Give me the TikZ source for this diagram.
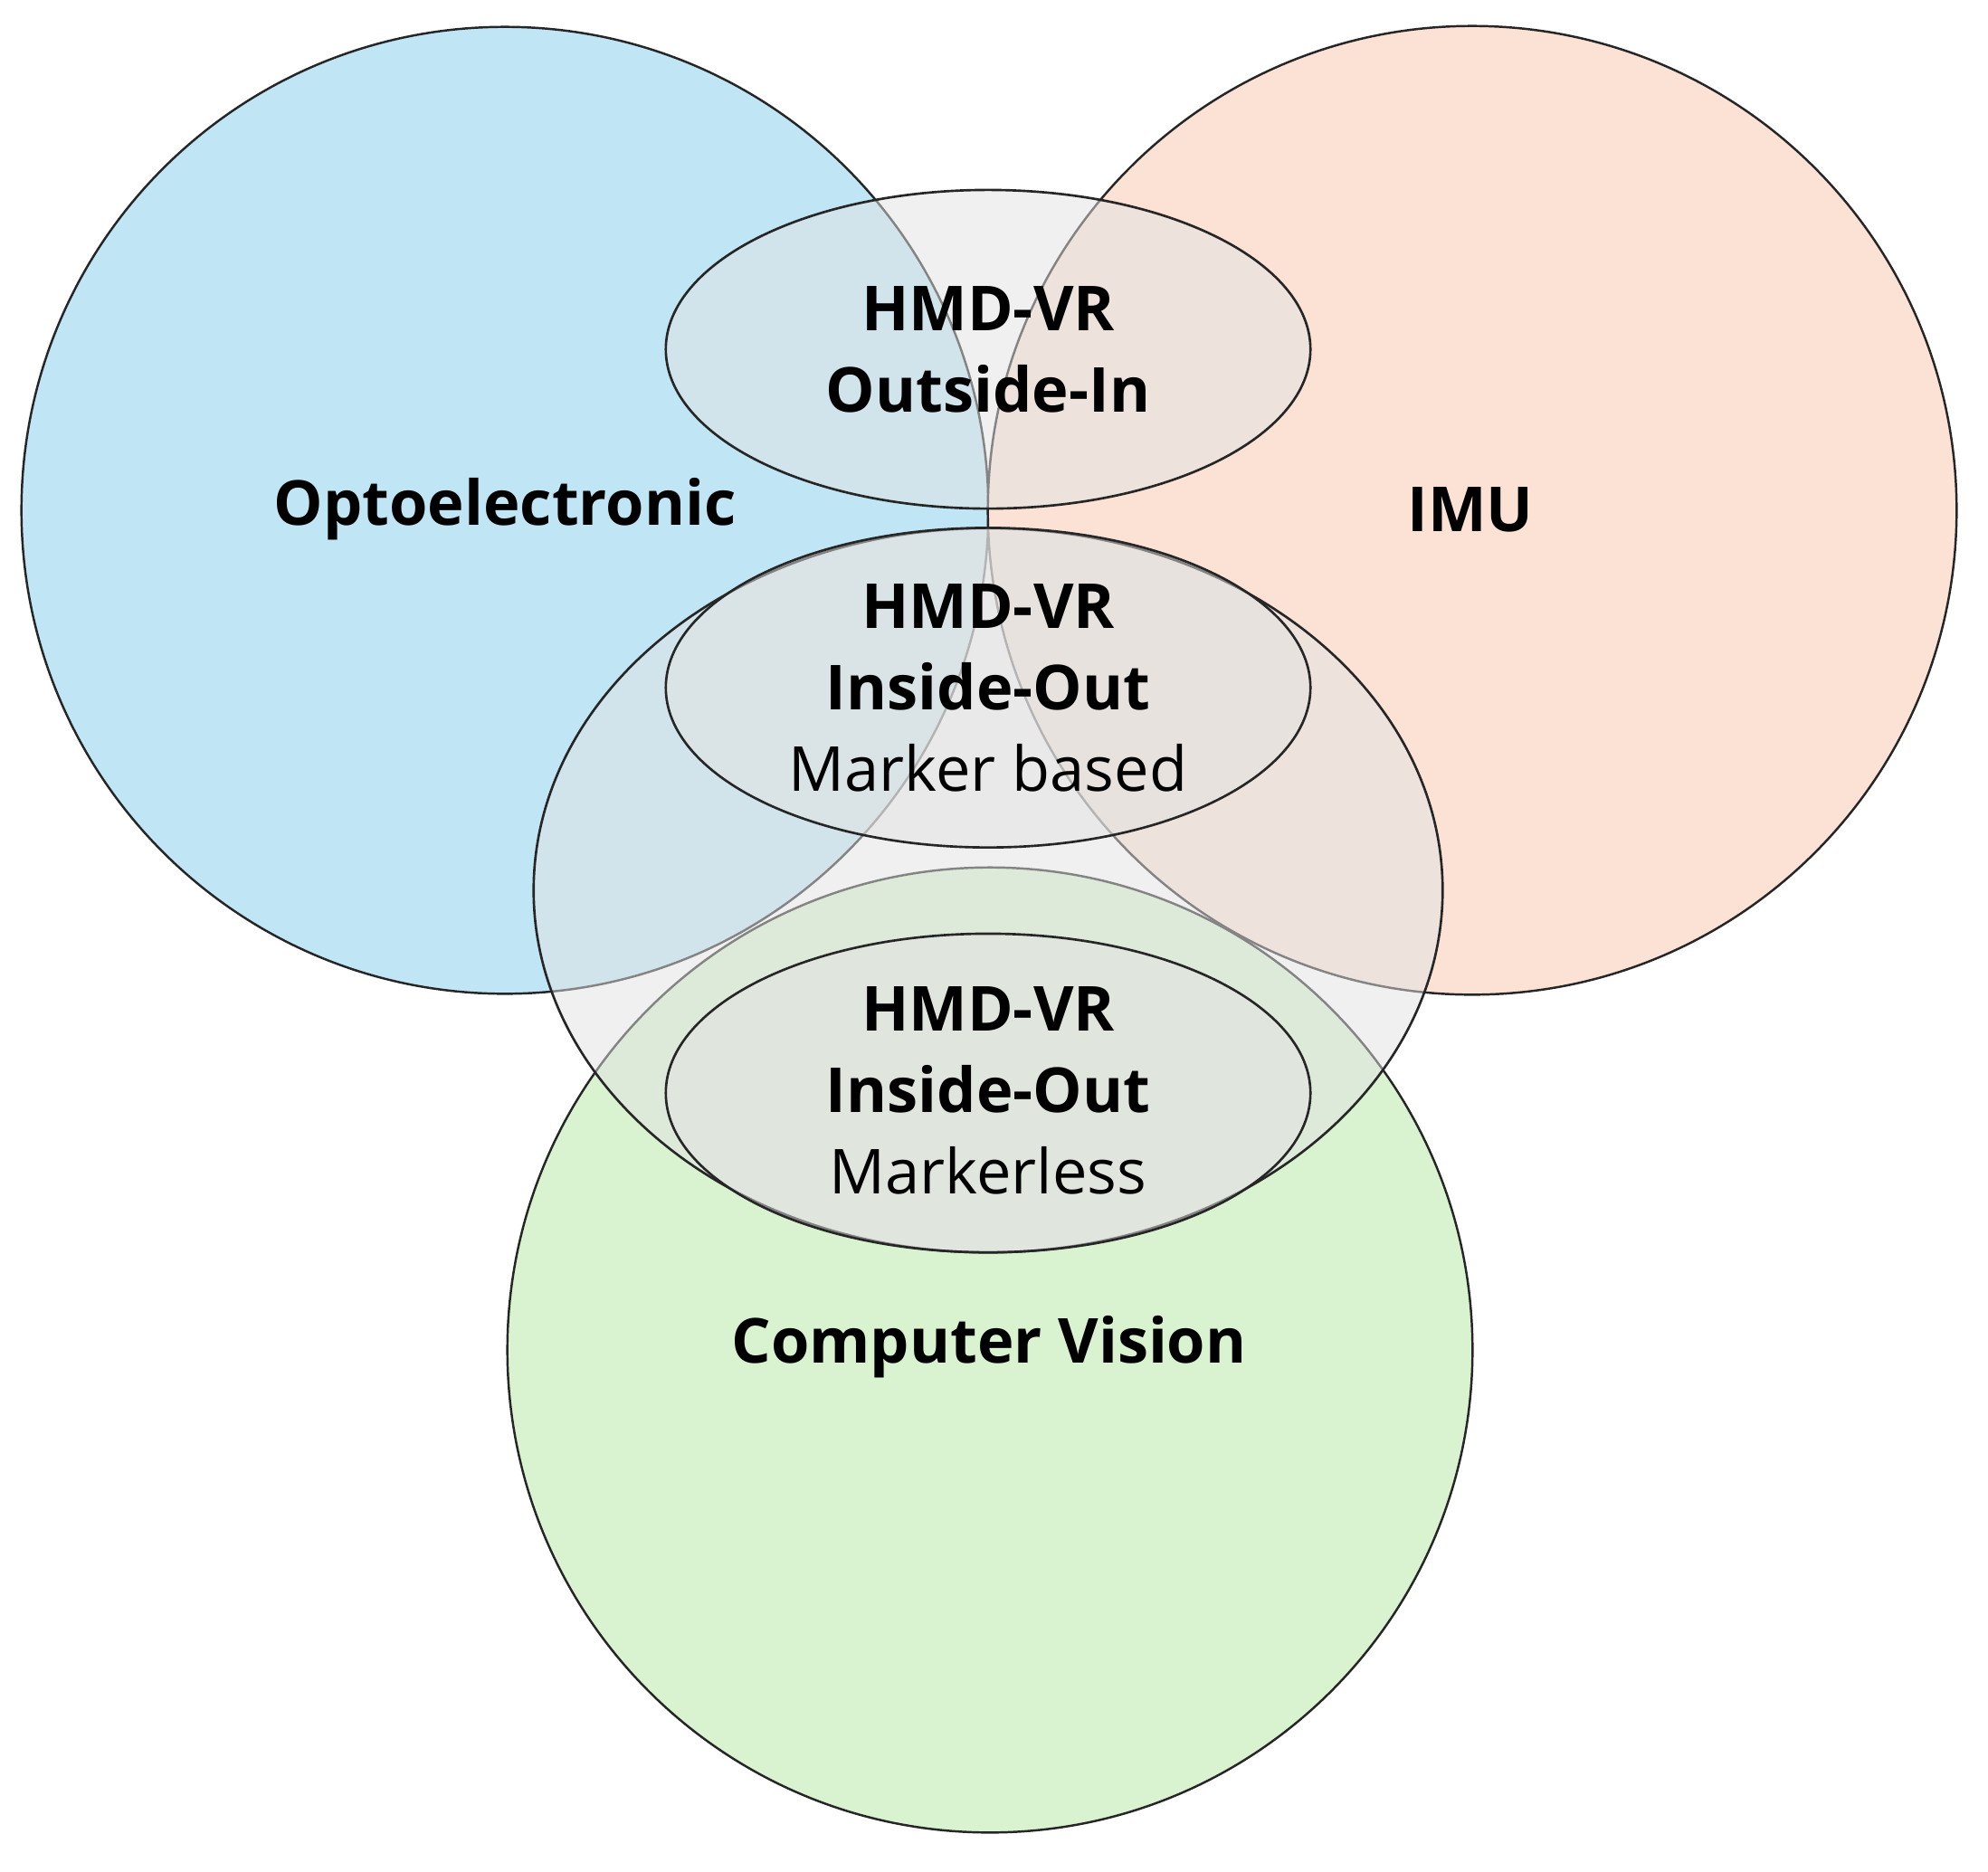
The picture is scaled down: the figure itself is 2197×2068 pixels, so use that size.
\documentclass[tikz,border=0pt]{standalone}
\usepackage{fontspec}
\setmainfont{Open Sans}
\definecolor{optoblue}{HTML}{C0E6F5}
\definecolor{imuorange}{HTML}{FBE2D5}
\definecolor{cvgreen}{HTML}{D9F2D0}
\definecolor{veil}{HTML}{E3E3E3}
\definecolor{edge}{HTML}{262626}
\tikzset{
  setcircle/.style={draw=edge, line width=0.7pt},
  veilshape/.style={draw=edge, line width=0.75pt, fill=veil, fill opacity=0.5, draw opacity=1},
  bigtxt/.style={font=\fontsize{19.5}{25.6}\selectfont\bfseries, text=black, align=center, inner sep=0pt},
  blocktxt/.style={font=\fontsize{19.5}{25.6}\selectfont, text=black, align=center, inner sep=0pt}
}
\begin{document}
\begin{tikzpicture}[x=0.01cm, y=-0.01cm]
\fill[white] (0,0) rectangle (2197,2068);
\useasboundingbox (0,0) rectangle (2197,2068);
% three technology circles
\path[setcircle, fill=optoblue] (558,564) circle[radius=5.34cm];
\path[setcircle, fill=imuorange] (1627,564) circle[radius=5.35cm];
\path[setcircle, fill=cvgreen] (1094,1492) circle[radius=5.33cm];
% big inside-out ellipse
\path[veilshape] (1092,984) ellipse[x radius=5.02cm, y radius=4.00cm];
% HMD-VR ellipses
\path[veilshape] (1092,386) ellipse[x radius=3.56cm, y radius=1.76cm];
\path[veilshape] (1092,760) ellipse[x radius=3.56cm, y radius=1.765cm];
\path[veilshape] (1092,1208) ellipse[x radius=3.56cm, y radius=1.76cm];
% labels
\node[bigtxt] (opto) at (558,563) {Optoelectronic};
\node[bigtxt] (imu) at (1625,563) {IMU};
\node[bigtxt] (cv) at (1093,1489) {Computer Vision};
\node[blocktxt] (outin) at (1092,386) {\bfseries HMD-VR\\\bfseries Outside-In};
\node[blocktxt] (inoutmb) at (1092,760) {\bfseries HMD-VR\\\bfseries Inside-Out\\Marker based};
\node[blocktxt] (inoutml) at (1092,1205) {\bfseries HMD-VR\\\bfseries Inside-Out\\Markerless};
\end{tikzpicture}
\end{document}
